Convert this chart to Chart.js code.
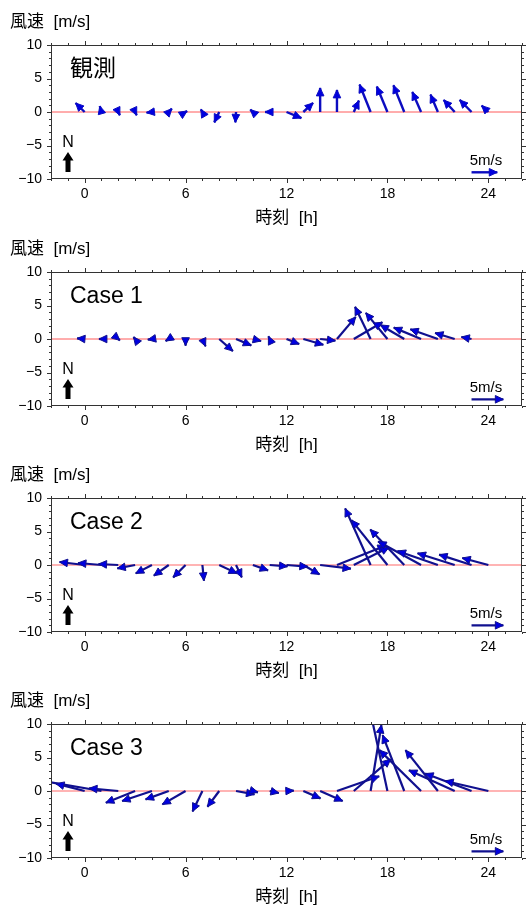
<!DOCTYPE html>
<html>
<head>
<meta charset="utf-8">
<script src="https://cdn.jsdelivr.net/npm/chart.js@4.4.1/dist/chart.umd.min.js"></script>
<style>
  body { margin: 0; background: #fff; width: 532px; height: 906px; overflow: hidden; position: relative; }
  canvas { position: absolute; left: 0; }
</style>
</head>
<body>
<canvas id="obs" width="532" height="227" style="top:0px"></canvas>
<canvas id="case1" width="532" height="227" style="top:227px"></canvas>
<canvas id="case2" width="532" height="227" style="top:453px"></canvas>
<canvas id="case3" width="532" height="227" style="top:679px"></canvas>
<script>
// time of each wind vector [h], east (u) and north (v) components [m/s]
const hoursObs = [0, 1, 2, 3, 4, 5, 6, 7, 8, 9, 10, 11, 12, 13, 14, 15, 16, 17, 18, 19, 20, 21, 22, 23, 24]
const uObs = [-1.76, -0.33, 0.3, 0.3, -1.05, 0.6, 0.3, -0.3, -0.95, -0.13, -0.5, -0.9, 2.9, 1.9, 0, 0, 1.0, -2.15, -2.06, -2.1, -1.7, -1.44, -2.15, -2.3, -1.3]
const vObs = [1.34, 0.9, -0.5, -0.5, -0.1, 0.5, 0.15, 0.4, -1.55, -1.55, 0.35, 0, -0.9, 1.35, 3.6, 3.3, 1.7, 4.1, 3.8, 4.0, 3.0, 2.6, 1.8, 1.8, 0.95]

const hoursCase1 = [0, 1, 2, 3, 4, 5, 6, 7, 8, 9, 10, 11, 12, 13, 14, 15, 16, 17, 18, 19, 20, 21, 22, 23]
const uCase1 = [-1.2, -0.4, 0.25, -0.25, -0.65, -0.5, 0, 0.5, 2.15, 2.4, 1.3, -0.2, 2.0, 3.15, 2.4, 2.95, 4.5, -2.45, -3.4, -3.75, -4.3, -4.35, -3.1, -1.6]
const vCase1 = [0.1, 0, -0.2, 0.3, -0.1, -0.3, -1.0, -1.1, -1.8, -0.95, -0.3, 0.4, -0.76, -0.86, -0.25, 3.3, 2.5, 4.8, 3.9, 2.1, 1.7, 1.45, 0.9, 0.3]

const hoursCase2 = [0, 1, 2, 3, 4, 5, 6, 7, 8, 9, 10, 11, 12, 13, 14, 15, 16, 17, 18, 19, 20, 21, 22, 23, 24]
const uCase2 = [-3.95, -3.7, -3.1, -2.8, -2.55, -2.35, -1.95, 0.25, 2.8, 0.9, 2.4, 2.8, 3.35, 2.55, 4.85, 7.7, 5.55, -4.0, -5.65, -5.35, -6.75, -6.35, -5.85, -5.1, -4.1]
const vCase2 = [0.45, 0.3, 0.15, -0.5, -1.25, -1.6, -1.85, -2.35, -1.25, -1.85, -0.8, -0.2, -0.25, -1.4, -0.55, 2.9, 2.65, 8.45, 6.7, 5.3, 3.5, 2.1, 1.75, 1.55, 1.05]

const hoursCase3 = [0, 1, 2, 3, 4, 5, 6, 7, 8, 9, 10, 11, 12, 13, 14, 15, 16, 17, 18, 19, 20, 21, 22, 23, 24]
const uCase3 = [-4.5, -9.0, -4.6, -4.6, -4.7, -3.65, -3.65, -1.55, -1.85, 2.9, 0.8, 1.45, 1.15, 2.7, 3.55, 6.65, 5.8, 1.7, -2.5, -3.4, -6.55, -5.1, -7.2, -7.3, -6.8]
const vCase3 = [1.1, 1.45, 0.4, -1.75, -1.5, -1.25, -2.0, -3.05, -2.35, -0.5, -0.2, -0.3, 0.05, -1.1, -1.5, 2.2, 4.75, 9.85, 11, 8.35, 6.1, 6.1, 3.1, 2.6, 1.5]

const xTicks = [0, 6, 12, 18, 24]
const yTicks = [-10, -5, 0, 5, 10]

// reference vector: 5 m/s eastward, tail at (23 h, -9)
const refSpeed = 5
const refTail = [23, -9]

const FONT = "'Liberation Sans', 'Noto Sans CJK JP', sans-serif"
Chart.defaults.font.family = FONT
Chart.defaults.color = '#000'

function drawHead(ctx, x0, y0, x1, y1, len, half) {
  const a = Math.atan2(y1 - y0, x1 - x0)
  const c = Math.cos(a), s = Math.sin(a)
  const bx = x1 - len * c, by = y1 - len * s
  ctx.beginPath()
  ctx.moveTo(x1, y1)
  ctx.lineTo(bx + half * s, by - half * c)
  ctx.lineTo(bx - half * s, by + half * c)
  ctx.closePath()
  ctx.fill()
  ctx.stroke()
}

const windPlugin = {
  id: 'wind',
  beforeDatasetsDraw(chart, args, o) {
    const {ctx, chartArea: a, scales: {y}} = chart
    const y0 = y.getPixelForValue(0)
    ctx.save()
    ctx.strokeStyle = o.zeroColor
    ctx.lineWidth = o.zeroWidth
    ctx.beginPath()
    ctx.moveTo(a.left, y0)
    ctx.lineTo(a.right, y0)
    ctx.stroke()
    ctx.restore()
  },
  afterDatasetsDraw(chart, args, o) {
    const {ctx, chartArea: a} = chart
    ctx.save()
    ctx.fillStyle = o.headColor
    ctx.strokeStyle = o.lineColor
    ctx.lineWidth = 1
    ctx.lineJoin = 'miter'
    chart.data.datasets.forEach((ds, i) => {
      const pts = chart.getDatasetMeta(i).data
      const p0 = pts[0], p1 = pts[1]
      if (p1.x < a.left || p1.x > a.right || p1.y < a.top || p1.y > a.bottom) return
      drawHead(ctx, p0.x, p0.y, p1.x, p1.y, 8, 3.8)
    })
    ctx.restore()
  },
  afterDraw(chart, args, o) {
    const {ctx, chartArea: a, scales: {x, y}} = chart
    ctx.save()
    // frame and ticks
    ctx.strokeStyle = '#333'
    ctx.lineWidth = 1
    ctx.strokeRect(Math.round(a.left) + 0.5, Math.round(a.top) + 0.5, Math.round(a.right - a.left) - 1, Math.round(a.bottom - a.top) - 1)
    ctx.beginPath()
    for (let h = x.min; h <= x.max; h++) {
      const px = Math.round(x.getPixelForValue(h)) + 0.5
      const l = xTicks.includes(h) ? 4 : 2
      ctx.moveTo(px, a.bottom); ctx.lineTo(px, a.bottom + l)
      ctx.moveTo(px, a.top); ctx.lineTo(px, a.top - l)
    }
    for (let m = y.min; m <= y.max; m++) {
      const py = Math.round(y.getPixelForValue(m)) + 0.5
      const l = yTicks.includes(m) ? 4 : 2
      ctx.moveTo(a.left, py); ctx.lineTo(a.left - l, py)
      ctx.moveTo(a.right, py); ctx.lineTo(a.right + l, py)
    }
    ctx.stroke()

    // texts
    ctx.fillStyle = '#000'
    ctx.textBaseline = 'middle'
    ctx.textAlign = 'left'
    ctx.font = '17px ' + FONT
    ctx.fillText('風速  [m/s]', 10, 22.5)
    ctx.font = '23px ' + FONT
    ctx.fillText(o.label, a.left + 19, a.top + 25)
    ctx.textAlign = 'center'
    ctx.font = '16px ' + FONT
    ctx.fillText('N', a.left + 17, a.top + 98)
    ctx.font = '15px ' + FONT
    ctx.fillText(refSpeed + 'm/s', a.right - 36, a.top + 116)

    // north arrow
    const nx = a.left + 17, ny = a.top + 107
    ctx.beginPath()
    ctx.moveTo(nx, ny)
    ctx.lineTo(nx + 5.5, ny + 8.5)
    ctx.lineTo(nx + 2.5, ny + 8.5)
    ctx.lineTo(nx + 2.5, ny + 20)
    ctx.lineTo(nx - 2.5, ny + 20)
    ctx.lineTo(nx - 2.5, ny + 8.5)
    ctx.lineTo(nx - 5.5, ny + 8.5)
    ctx.closePath()
    ctx.fill()
    ctx.restore()
  }
}

function makeChart(id, hours, u, v, opts) {
  const k = opts.hoursPerMs
  const datasets = hours.map((h, i) => ({
    data: [{x: h, y: 0}, {x: h + u[i] * k, y: v[i]}]
  }))
  datasets.push({
    data: [{x: refTail[0], y: refTail[1]}, {x: refTail[0] + refSpeed * k, y: refTail[1]}]
  })
  datasets.forEach(ds => {
    ds.showLine = true
    ds.borderColor = opts.lineColor
    ds.borderWidth = opts.lineWidth
    ds.pointRadius = 0
    ds.clip = 0
  })
  return new Chart(document.getElementById(id), {
    type: 'scatter',
    data: {datasets},
    options: {
      responsive: false,
      animation: false,
      events: [],
      layout: {padding: {top: 45, right: 10, bottom: 0, left: 0}},
      plugins: {
        legend: {display: false},
        tooltip: {enabled: false},
        wind: {label: opts.label, zeroColor: opts.zeroColor, zeroWidth: opts.zeroWidth, lineColor: opts.lineColor, headColor: '#0000e0'}
      },
      scales: {
        x: {
          type: 'linear', min: -2, max: 26,
          afterBuildTicks: s => { s.ticks = xTicks.map(t => ({value: t})) },
          afterFit: s => { s.height = 48 },
          ticks: {font: {size: 14}, padding: 7, maxRotation: 0, autoSkip: false},
          grid: {display: false, drawTicks: false},
          border: {display: false},
          title: {display: true, text: '時刻  [h]', font: {size: 17, lineHeight: 1}, padding: {top: 0, bottom: 0.5}}
        },
        y: {
          type: 'linear', min: -10, max: 10,
          afterBuildTicks: s => { s.ticks = yTicks.map(t => ({value: t})) },
          afterFit: s => { s.width = 51 },
          ticks: {font: {size: 14}, padding: 9, callback: t => t < 0 ? '\u2212' + (-t) : String(t)},
          grid: {display: false, drawTicks: false},
          border: {display: false}
        }
      }
    },
    plugins: [windPlugin]
  })
}

makeChart('obs', hoursObs, uObs, vObs, {label: '観測', hoursPerMs: 0.306, lineColor: '#0c0cc0', lineWidth: 2.4, zeroColor: '#ff5a5a', zeroWidth: 1})
makeChart('case1', hoursCase1, uCase1, vCase1, {label: 'Case 1', hoursPerMs: 0.378, lineColor: '#10108f', lineWidth: 2.2, zeroColor: '#ff5a5a', zeroWidth: 1})
makeChart('case2', hoursCase2, uCase2, vCase2, {label: 'Case 2', hoursPerMs: 0.378, lineColor: '#10108f', lineWidth: 2.2, zeroColor: '#ffb4b4', zeroWidth: 2})
makeChart('case3', hoursCase3, uCase3, vCase3, {label: 'Case 3', hoursPerMs: 0.378, lineColor: '#10108f', lineWidth: 2.2, zeroColor: '#ffb4b4', zeroWidth: 2})
</script>
</body>
</html>
